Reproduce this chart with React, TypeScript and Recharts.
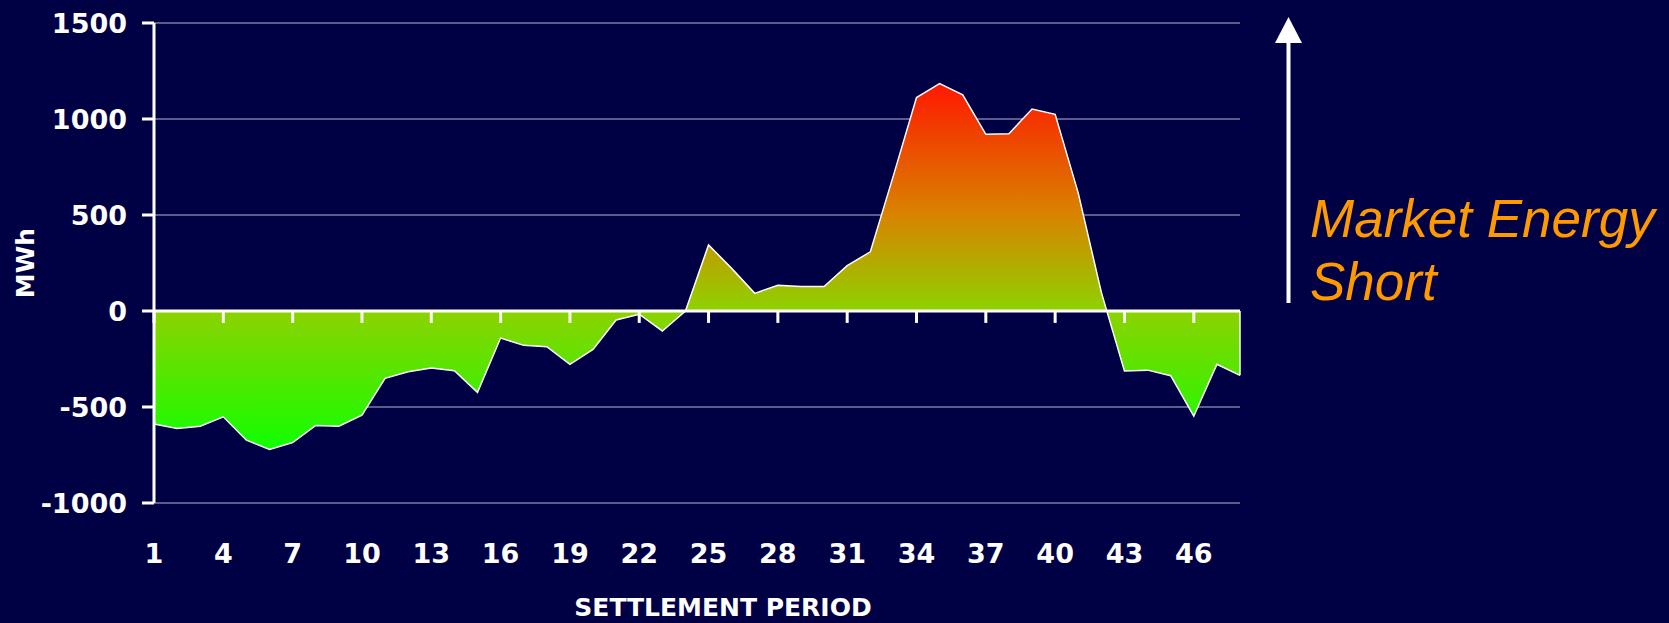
import React from "react";
import { AreaChart, Area, XAxis, YAxis, CartesianGrid, ReferenceLine } from "recharts";

// settlement periods (half hours) and market imbalance in MWh
const periods = [
  1, 2, 3, 4, 5, 6, 7, 8, 9, 10, 11, 12, 13, 14, 15, 16, 17, 18, 19, 20, 21, 22, 23, 24,
  25, 26, 27, 28, 29, 30, 31, 32, 33, 34, 35, 36, 37, 38, 39, 40, 41, 42, 43, 44, 45, 46, 47, 48,
];
const imbalance = [
  -589, -612, -600, -551, -673, -721, -685, -596, -600, -542, -351, -316, -297, -311, -424, -141,
  -179, -186, -278, -200, -47, -17, -104, 0, 344, 222, 92, 134, 127, 127, 236, 308,
  705, 1112, 1184, 1126, 920, 923, 1052, 1024, 614, 97, -313, -308, -337, -548, -278, -335,
];
const xTicks = [1, 4, 7, 10, 13, 16, 19, 22, 25, 28, 31, 34, 37, 40, 43, 46];
const yTicks = [-1000, -500, 0, 500, 1000, 1500];

const data = periods.map((p, i) => ({ period: p, mwh: imbalance[i] }));

const BG = "#000044";
const BOLD = "'DejaVu Sans', sans-serif";

function PeriodTick({ x, y, payload }: any) {
  return (
    <text x={x} y={y + 60} textAnchor="middle" fill="#fff" fontSize={27} fontWeight="bold" fontFamily={BOLD}>
      {payload.value}
    </text>
  );
}

export default function App() {
  return (
    <div style={{ position: "relative", width: 1669, height: 623, background: BG }}>
      <style>{`body{margin:0;background:${BG}}`}</style>
      <AreaChart width={1669} height={623} data={data} margin={{ top: 23, right: 429, bottom: 0, left: 0 }}>
        <defs>
          <linearGradient id="shortGrad" x1="0" y1="0" x2="0" y2="1">
            <stop offset="0" stopColor="#ff1800" />
            <stop offset="0.36" stopColor="#d88400" />
            <stop offset="0.62" stopColor="#8ed200" />
            <stop offset="1" stopColor="#10ff00" />
          </linearGradient>
        </defs>
        <CartesianGrid vertical={false} stroke="#b8b8d4" strokeWidth={1} />
        <XAxis
          type="number"
          dataKey="period"
          domain={[1, 48]}
          ticks={xTicks}
          interval={0}
          tick={<PeriodTick />}
          tickLine={false}
          axisLine={false}
          tickSize={0}
          tickMargin={0}
          height={120}
          label={{
            content: ({ viewBox }: any) => (
              <text
                x={viewBox.x + viewBox.width / 2 + 26}
                y={viewBox.y + 113}
                textAnchor="middle"
                fill="#fff"
                fontSize={25}
                fontWeight="bold"
                fontFamily={BOLD}
              >
                SETTLEMENT PERIOD
              </text>
            ),
          }}
        />
        <YAxis
          domain={[-1000, 1500]}
          ticks={yTicks}
          interval={0}
          width={154}
          axisLine={{ stroke: "#fff", strokeWidth: 3 }}
          tickLine={{ stroke: "#fff", strokeWidth: 3 }}
          tickSize={12}
          tickMargin={15}
          tick={{ fill: "#fff", fontSize: 27, fontWeight: "bold", fontFamily: BOLD }}
          label={{
            content: ({ viewBox }: any) => {
              const cx = viewBox.x + 34;
              const cy = viewBox.y + viewBox.height / 2;
              return (
                <text
                  x={cx}
                  y={cy}
                  transform={`rotate(-90 ${cx} ${cy})`}
                  textAnchor="middle"
                  fill="#fff"
                  fontSize={25}
                  fontWeight="bold"
                  fontFamily={BOLD}
                >
                  MWh
                </text>
              );
            },
          }}
        />
        <Area
          type="linear"
          dataKey="mwh"
          stroke="#fff"
          strokeWidth={1.5}
          fill="url(#shortGrad)"
          fillOpacity={1}
          dot={false}
          activeDot={false}
          isAnimationActive={false}
        />
        <ReferenceLine
          segment={[{ x: 48, y: 0 }, { x: 48, y: imbalance[imbalance.length - 1] }]}
          stroke="#fff"
          strokeWidth={1.5}
        />
        <ReferenceLine y={0} stroke="#fff" strokeWidth={3} />
        {xTicks.map((t) => (
          <ReferenceLine key={t} segment={[{ x: t, y: 0 }, { x: t, y: -62 }]} stroke="#fff" strokeWidth={3} />
        ))}
      </AreaChart>
      <svg width={1669} height={623} style={{ position: "absolute", left: 0, top: 0, pointerEvents: "none" }}>
        <line x1={1288.5} y1={40} x2={1288.5} y2={303} stroke="#fff" strokeWidth={4} />
        <polygon points="1275,43 1302,43 1288.5,17" fill="#fff" />
        <text x={1310} y={237} fill="#ff9900" fontSize={53} fontStyle="italic" fontFamily="'Liberation Sans', Arial, sans-serif">
          Market Energy
        </text>
        <text x={1310} y={300} fill="#ff9900" fontSize={53} fontStyle="italic" fontFamily="'Liberation Sans', Arial, sans-serif">
          Short
        </text>
      </svg>
    </div>
  );
}
